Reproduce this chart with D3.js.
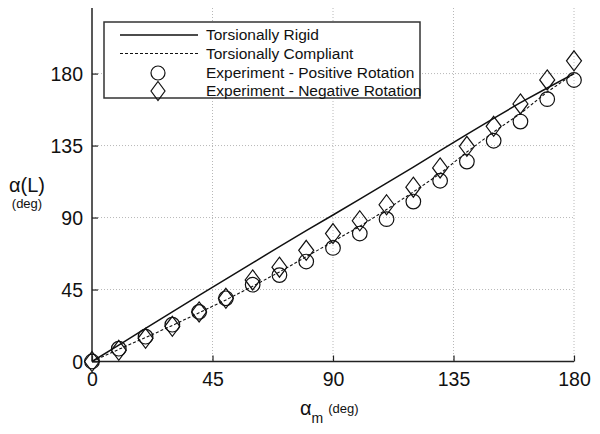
<!DOCTYPE html>
<html>
<head>
<meta charset="utf-8">
<script src="https://cdn.jsdelivr.net/npm/d3@7.9.0/dist/d3.min.js"></script>
<style>
  html, body { margin: 0; padding: 0; background: #fff; }
  svg { display: block; font-family: "Liberation Sans", Arial, sans-serif; }
</style>
</head>
<body>
<svg id="chart" width="600" height="434"></svg>
<script>
// motor angle (deg)
const alphaM = [0, 10, 20, 30, 40, 50, 60, 70, 80, 90, 100, 110, 120, 130, 140, 150, 160, 170, 180];
// model curves
const rigid = [0, 10.3, 20.7, 31, 41.3, 51.5, 61.7, 71.8, 81.8, 91.6, 101.5, 111.5, 121.5, 131.8, 142, 152, 161.8, 171, 180];
const compliant = [0, 7.6, 15, 22.5, 30.5, 38.5, 47, 56, 65.5, 75, 84.5, 95, 106, 117.5, 131, 143.5, 155, 168.5, 180];
// experiments
const positive = [0, 8, 15.5, 23, 31, 39.5, 48, 54, 62.5, 71, 80, 89, 100, 113, 125, 138, 150, 164, 176];
const negative = [0, 7, 14.5, 22, 31, 39.5, 51, 59, 69.5, 80, 88, 98, 109, 121, 134.5, 147, 161, 176, 188];
const ticks = [0, 45, 90, 135, 180];
const legendLabels = ['Torsionally Rigid', 'Torsionally Compliant',
  'Experiment - Positive Rotation', 'Experiment - Negative Rotation'];

const svg = d3.select('#chart');
const mLeft = 92, mRight = 574, mTop = 8, mBottom = 361.5;

let x = d3.scaleLinear().domain([0, 180]).range([mLeft, mRight]);
let y = d3.scaleLinear().domain([0, 221]).range([mBottom, mTop]);

// grid
svg.append('g').selectAll('line').data(ticks.slice(1)).join('line')
  .attr('x1', (d) => x(d)).attr('x2', (d) => x(d))
  .attr('y1', mTop).attr('y2', mBottom)
  .attr('stroke', '#b8b8b8').attr('stroke-width', 1).attr('stroke-dasharray', '1,2');
svg.append('g').selectAll('line').data(ticks.slice(1)).join('line')
  .attr('x1', mLeft).attr('x2', mRight)
  .attr('y1', (d) => y(d)).attr('y2', (d) => y(d))
  .attr('stroke', '#b8b8b8').attr('stroke-width', 1).attr('stroke-dasharray', '1,2');

// axes with inward ticks
let xAxis = d3.axisBottom(x).tickValues(ticks).tickSize(-6).tickPadding(10.5);
let yAxis = d3.axisLeft(y).tickValues(ticks).tickSize(-6).tickPadding(9);

let gx = svg.append('g').attr('transform', `translate(0,${mBottom})`).call(xAxis);
let gy = svg.append('g').attr('transform', `translate(${mLeft},0)`).call(yAxis);
[gx, gy].forEach((g) => {
  g.select('.domain').attr('stroke', '#222').attr('stroke-width', 1.5);
  g.selectAll('.tick line').attr('stroke', '#222').attr('stroke-width', 1.2);
  g.selectAll('.tick text').attr('fill', '#111')
    .style('font-size', '19.5px').style('font-family', '"Liberation Sans", Arial, sans-serif');
});
gy.selectAll('.tick text').attr('dy', '0.36em');
// left axis runs to top of frame
gy.select('.domain').attr('d', `M0,${mBottom}V${mTop}`);
gx.select('.domain').attr('d', `M${mLeft},0H${mRight}`);

// curves
let line = (vals) => d3.line().x((d, i) => x(alphaM[i])).y((d) => y(d))(vals);
svg.append('path').attr('d', line(rigid))
  .attr('fill', 'none').attr('stroke', '#111').attr('stroke-width', 1.5);
svg.append('path').attr('d', line(compliant))
  .attr('fill', 'none').attr('stroke', '#111').attr('stroke-width', 1.1)
  .attr('stroke-dasharray', '3,2');

// markers
const diamond = (cx, cy, w, h) => `M${cx},${cy - h}L${cx + w},${cy}L${cx},${cy + h}L${cx - w},${cy}Z`;
svg.append('g').selectAll('circle').data(positive).join('circle')
  .attr('cx', (d, i) => x(alphaM[i])).attr('cy', (d) => y(d)).attr('r', 7.3)
  .attr('fill', 'none').attr('stroke', '#111').attr('stroke-width', 1.2);
svg.append('g').selectAll('path').data(negative).join('path')
  .attr('d', (d, i) => diamond(x(alphaM[i]), y(d), 7.5, 10))
  .attr('fill', 'none').attr('stroke', '#111').attr('stroke-width', 1.2);

// legend
let lg = svg.append('g');
lg.append('rect').attr('x', 104).attr('y', 22).attr('width', 316).attr('height', 76)
  .attr('fill', '#fff').attr('stroke', '#333').attr('stroke-width', 1.5);
const rowsY = [35, 53.5, 73, 91];
lg.append('line').attr('x1', 120).attr('x2', 198).attr('y1', rowsY[0]).attr('y2', rowsY[0])
  .attr('stroke', '#111').attr('stroke-width', 1.5);
lg.append('line').attr('x1', 120).attr('x2', 198).attr('y1', rowsY[1]).attr('y2', rowsY[1])
  .attr('stroke', '#111').attr('stroke-width', 1.1).attr('stroke-dasharray', '3,2');
lg.append('circle').attr('cx', 158).attr('cy', rowsY[2]).attr('r', 7)
  .attr('fill', 'none').attr('stroke', '#111').attr('stroke-width', 1.2);
lg.append('path').attr('d', diamond(158, rowsY[3], 7, 9.5))
  .attr('fill', 'none').attr('stroke', '#111').attr('stroke-width', 1.2);
legendLabels.forEach((t, i) => {
  lg.append('text').attr('x', 206).attr('y', rowsY[i]).attr('dy', '0.35em')
    .attr('fill', '#111').style('font-size', '15.5px').text(t);
});

// axis titles
svg.append('text').attr('x', 27).attr('y', 192).attr('text-anchor', 'middle')
  .attr('fill', '#111').style('font-size', '20px').text('α(L)');
svg.append('text').attr('x', 27).attr('y', 208).attr('text-anchor', 'middle')
  .attr('fill', '#111').style('font-size', '13px').text('(deg)');

let xt = svg.append('text').attr('x', 300).attr('y', 415).attr('fill', '#111').style('font-size', '20px');
xt.append('tspan').text('α');
xt.append('tspan').attr('dy', 8).style('font-size', '14px').text('m');
xt.append('tspan').attr('dy', -10).attr('dx', 5).style('font-size', '13px').text('(deg)');
</script>
</body>
</html>
